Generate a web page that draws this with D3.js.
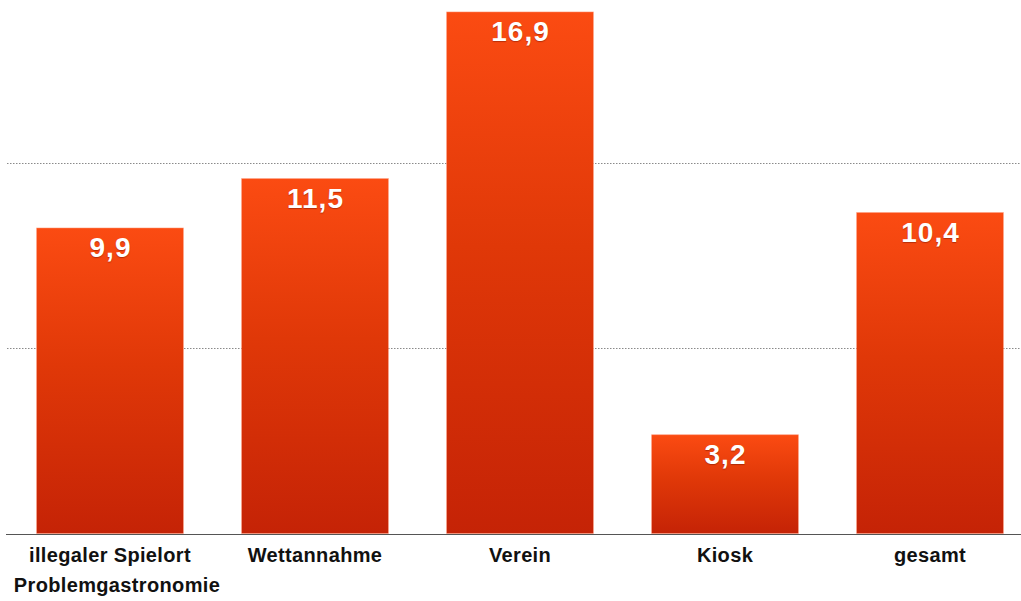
<!DOCTYPE html>
<html>
<head>
<meta charset="utf-8">
<script src="https://cdn.jsdelivr.net/npm/d3@7/dist/d3.min.js"></script>
<style>
  html, body { margin: 0; padding: 0; background: #fff; }
  svg { display: block; }
</style>
</head>
<body>
<svg id="chart" width="1021" height="601"></svg>
<script>
// Chart data
const categories = ["illegaler Spielort", "Wettannahme", "Verein", "Kiosk", "gesamt"];
const values = [9.9, 11.5, 16.9, 3.2, 10.4];
const valueLabels = ["9,9", "11,5", "16,9", "3,2", "10,4"];
const gridValues = [6, 12];
const extraLabel = "Problemgastronomie";

const width = 1021, height = 601;
const svg = d3.select("#chart");
const font = "Liberation Sans, Arial, Helvetica, sans-serif";

const x = d3.scaleBand()
  .domain(categories)
  .range([7.5, 1032.5])
  .paddingInner(0.284)
  .paddingOuter(0.142);

const y = d3.scaleLinear()
  .domain([0, 18])
  .range([533.5, -22]);

// Vertical gradient for the bars
const defs = svg.append("defs");
const grad = defs.append("linearGradient")
  .attr("id", "barGrad")
  .attr("x1", 0).attr("y1", 0).attr("x2", 0).attr("y2", 1);
grad.append("stop").attr("offset", "0%").attr("stop-color", "#fb4b12");
grad.append("stop").attr("offset", "45%").attr("stop-color", "#e03808");
grad.append("stop").attr("offset", "100%").attr("stop-color", "#c52306");

// Dotted horizontal gridlines
svg.append("g")
  .selectAll("line")
  .data(gridValues)
  .join("line")
  .attr("x1", 7).attr("x2", width)
  .attr("y1", d => Math.round(y(d)) + 0.5)
  .attr("y2", d => Math.round(y(d)) + 0.5)
  .attr("stroke", "#8a8a8a")
  .attr("stroke-width", 1)
  .attr("stroke-dasharray", "1.5,1.5");

// Bars
svg.append("g")
  .selectAll("rect")
  .data(values)
  .join("rect")
  .attr("x", (d, i) => x(categories[i]))
  .attr("width", x.bandwidth())
  .attr("y", d => y(d))
  .attr("height", d => y(0) - y(d))
  .attr("fill", "url(#barGrad)")
  .attr("stroke", "rgba(255,150,120,0.6)")
  .attr("stroke-width", 0.8);

// Value labels inside the bars
svg.append("g")
  .selectAll("text")
  .data(values)
  .join("text")
  .attr("x", (d, i) => x(categories[i]) + x.bandwidth() / 2 + 0.5)
  .attr("y", d => y(d) + 29)
  .attr("text-anchor", "middle")
  .attr("fill", "#fff")
  .attr("font-family", font)
  .attr("font-weight", "bold")
  .attr("font-size", "28px")
  .attr("letter-spacing", "1px")
  .style("text-shadow", "0 1px 1px rgba(120,20,0,0.5)")
  .text((d, i) => valueLabels[i]);

// Baseline
svg.append("line")
  .attr("x1", 6).attr("x2", width)
  .attr("y1", Math.round(y(0)) + 0.5)
  .attr("y2", Math.round(y(0)) + 0.5)
  .attr("stroke", "#555")
  .attr("stroke-width", 1);

// Category axis
const xAxis = d3.axisBottom(x).tickSize(0).tickPadding(0);
const gx = svg.append("g")
  .attr("transform", `translate(0,${y(0)})`)
  .call(xAxis);
gx.select(".domain").remove();
gx.selectAll("text")
  .attr("y", 28.5)
  .attr("dy", null)
  .attr("fill", "#111")
  .attr("font-family", font)
  .attr("font-weight", "bold")
  .attr("font-size", "20px")
  .attr("letter-spacing", "0.35px");

// Second line under the first category
svg.append("text")
  .attr("x", x(categories[0]) + x.bandwidth() / 2 + 7)
  .attr("y", 591.5)
  .attr("text-anchor", "middle")
  .attr("fill", "#111")
  .attr("font-family", font)
  .attr("font-weight", "bold")
  .attr("font-size", "20px")
  .attr("letter-spacing", "0.35px")
  .text(extraLabel);
</script>
</body>
</html>
